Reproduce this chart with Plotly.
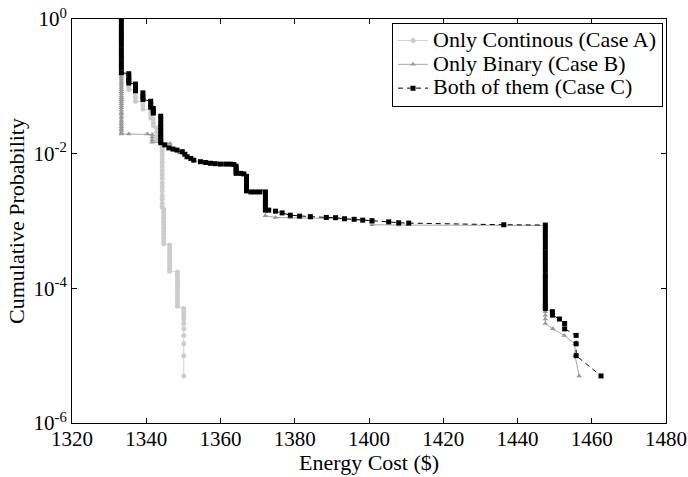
import plotly.graph_objects as go

# ---------------- data ----------------
case_a_cost = (
    [1333.3] * 4 + [1335.3] * 5 + [1337.1] * 4 + [1339.1] * 3 + [1341.2] * 3 +
    [1341.9] * 3 + [1342.8] * 4 + [1344.3] * 17 + [1344.7] * 12 + [1346.3] * 11 +
    [1348.4] * 13 + [1350.1] * 10
)
case_a_prob = [
    1.0, 0.5, 0.25, 0.15,
    0.15, 0.13, 0.115, 0.10, 0.09,
    0.088, 0.078, 0.069, 0.060,
    0.058, 0.052, 0.046,
    0.044, 0.039, 0.034,
    0.033, 0.029, 0.026,
    0.024, 0.021, 0.018, 0.0155,
    0.0142, 0.0125, 0.011, 0.0096, 0.0084, 0.0073, 0.0064, 0.0056, 0.0049,
    0.0043, 0.0037, 0.0032, 0.0028, 0.0024, 0.0021, 0.0018, 0.0016,
    0.0015, 0.00135, 0.0012, 0.0011, 0.00098, 0.00088, 0.00079, 0.00071,
    0.00064, 0.00057, 0.00051, 0.00046,
    0.00044, 0.0004, 0.00036, 0.00033, 0.0003, 0.00027, 0.00025, 0.00023,
    0.00021, 0.00019, 0.00018,
    0.000175, 0.00016, 0.000145, 0.00013, 0.00012, 0.00011, 0.0001, 9e-5,
    8.2e-5, 7.4e-5, 6.6e-5, 6e-5, 5.4e-5,
    5e-5, 4.5e-5, 4e-5, 3.5e-5, 3e-5, 2.5e-5, 2e-5, 1.5e-5, 1e-5, 5e-6,
]

case_b_cost = (
    [1333.3] * 35 + [1335.3, 1340.3] + [1341.6] * 4 + [1346.4, 1347.8, 1349.0,
    1351.0, 1352.8, 1355.0, 1360.0, 1363.6] + [1364.2] * 2 + [1366.3] +
    [1367.0] * 3 + [1371.2] + [1372.1] * 4 + [1374.8, 1378.8, 1384.2, 1391.0,
    1396.0] + [1400.8] * 3 + [1408.0, 1436.3] + [1447.5] * 12 +
    [1449.5, 1452.6, 1455.5, 1455.5, 1456.6]
)
case_b_prob = [
    1.0, 0.6, 0.35, 0.2,
    0.156, 0.146, 0.136, 0.127, 0.118, 0.110, 0.103, 0.096, 0.089, 0.083,
    0.078, 0.072, 0.067, 0.063, 0.059, 0.055, 0.051, 0.048, 0.044, 0.041,
    0.039, 0.036, 0.034, 0.031, 0.029, 0.027, 0.025, 0.0235, 0.022, 0.0205,
    0.0196,
    0.0196, 0.0196,
    0.0192, 0.0175, 0.016, 0.0148,
    0.0142, 0.0112, 0.0102, 0.0088, 0.0079, 0.0075, 0.0069, 0.0068,
    0.0060, 0.0052,
    0.0049,
    0.0040, 0.0032, 0.0028,
    0.0028,
    0.0024, 0.0019, 0.0015, 0.0012,
    0.00113, 0.00112, 0.00111, 0.00109, 0.00105,
    0.00101, 0.00094, 0.00088,
    0.00087, 0.00086,
    0.00086, 0.0006, 0.0004, 0.00025, 0.00015, 0.0001, 7e-5, 5e-5, 4.5e-5,
    4e-5, 3.5e-5, 3e-5,
    2.5e-5, 2e-5, 1.5e-5, 1e-5, 5e-6,
]

case_c_cost = (
    [1333.3] * 13 + [1335.3] * 4 + [1337.1] * 3 + [1339.1] * 3 + [1341.2] * 3 +
    [1341.9] * 3 + [1343.9] * 9 +
    [1345.0, 1346.1, 1347.2, 1348.3, 1349.7, 1350.4, 1351.0, 1352.0, 1352.8,
     1354.6, 1356.0, 1357.3, 1358.6, 1360.0, 1361.4, 1362.7, 1363.6] +
    [1364.2] * 4 + [1365.4, 1366.3] + [1367.0] * 6 + [1368.2, 1369.4, 1370.6] +
    [1372.1] * 7 +
    [1373.0, 1374.8, 1376.6, 1378.8, 1381.3, 1384.2, 1388.5, 1391.0, 1393.4,
     1396.0, 1398.3, 1400.8, 1405.3, 1408.0, 1410.7, 1436.3] +
    [1447.5] * 21 + [1449.4] * 2 + [1451.3] + [1452.7] * 2 + [1455.8] * 3 +
    [1462.5]
)
case_c_prob = [
    1.0, 0.87, 0.75, 0.65, 0.56, 0.48, 0.41, 0.35, 0.30, 0.26, 0.22, 0.19, 0.16,
    0.154, 0.136, 0.122, 0.112,
    0.108, 0.096, 0.086,
    0.080, 0.071, 0.064,
    0.060, 0.054, 0.049,
    0.047, 0.043, 0.040,
    0.036, 0.032, 0.028, 0.025, 0.022, 0.0195, 0.0175, 0.0158, 0.0145,
    0.0135, 0.0122, 0.0117, 0.0113, 0.0107, 0.0098, 0.0090, 0.0085, 0.0080,
    0.0076, 0.0074, 0.0072, 0.0071, 0.0070, 0.0070, 0.0070, 0.0069,
    0.0065, 0.0060, 0.0055, 0.0051,
    0.0051, 0.0050,
    0.0046, 0.0041, 0.0037, 0.0033, 0.0030, 0.0028,
    0.0027, 0.0027, 0.0027,
    0.0027, 0.0024, 0.0021, 0.0019, 0.0017, 0.00155, 0.00145,
    0.00145, 0.00140, 0.00132, 0.00122, 0.00118, 0.00116, 0.00113, 0.00112,
    0.00108, 0.00106, 0.00103, 0.00101, 0.00097, 0.00094, 0.00093, 0.00088,
    0.00087, 0.00075, 0.00065, 0.00056, 0.00048, 0.00041, 0.00035, 0.00030,
    0.00026, 0.00022, 0.00019, 0.00016, 0.00014, 0.00012, 0.000104, 9e-5,
    7.8e-5, 6.8e-5, 6e-5, 5.4e-5, 5e-5,
    4.5e-5, 4e-5,
    3.5e-5,
    3e-5, 2.5e-5,
    2e-5, 1.5e-5, 1e-5,
    5e-6,
]

series_names = ["Only Continous (Case A)", "Only Binary (Case B)", "Both of them (Case C)"]
y_tick_values = [1e-6, 1e-4, 1e-2, 1]
y_tick_labels = ["10<sup>-6</sup>", "10<sup>-4</sup>", "10<sup>-2</sup>", "10<sup>0</sup>"]
x_title = "Energy Cost ($)"
y_title = "Cumulative Probability"

FONT = "Liberation Serif, Times New Roman, serif"


def legend_label(text):
    return '<span style="font-size:22px">' + text + "</span>"


fig = go.Figure()
fig.add_trace(go.Scatter(
    x=case_a_cost, y=case_a_prob, name=legend_label(series_names[0]),
    mode="lines+markers",
    line=dict(color="#d0d0d0", width=1),
    marker=dict(symbol="circle", size=5, color="#cccccc"),
))
fig.add_trace(go.Scatter(
    x=case_b_cost, y=case_b_prob, name=legend_label(series_names[1]),
    mode="lines+markers",
    line=dict(color="#a8a8a8", width=1),
    marker=dict(symbol="triangle-up", size=5, color="#999999"),
))
fig.add_trace(go.Scatter(
    x=case_c_cost, y=case_c_prob, name=legend_label(series_names[2]),
    mode="lines+markers",
    line=dict(color="black", width=1, dash="5px,4px"),
    marker=dict(symbol="square", size=5, color="black"),
))

axis_common = dict(
    showline=True, linecolor="black", linewidth=1, mirror="ticks",
    ticks="inside", ticklen=5, tickcolor="black", tickwidth=1,
    showgrid=False, zeroline=False, automargin=False,
    tickfont=dict(family=FONT, size=21, color="black"),
)

fig.update_layout(
    width=688, height=477,
    margin=dict(l=72, r=22, t=19, b=54),
    paper_bgcolor="white", plot_bgcolor="white",
    font=dict(family=FONT, size=22, color="black"),
    showlegend=True,
    legend=dict(
        x=0.995, y=0.991, xanchor="right", yanchor="top",
        bgcolor="white", bordercolor="black", borderwidth=1,
        font=dict(family=FONT, size=16, color="black"),
        itemwidth=30, tracegroupgap=0,
    ),
    xaxis=dict(
        range=[1320, 1480], tick0=1320, dtick=20, ticklabelstandoff=-3,
        **axis_common,
    ),
    yaxis=dict(
        type="log", range=[-6, 0],
        tickmode="array", tickvals=y_tick_values, ticktext=y_tick_labels,
        title=dict(text=y_title, font=dict(family=FONT, size=22), standoff=2),
        **axis_common,
    ),
    annotations=[dict(
        text=x_title, xref="paper", yref="paper", x=0.5, y=-0.099,
        xanchor="center", yanchor="middle", showarrow=False,
        font=dict(family=FONT, size=22, color="black"),
    )],
)

fig.write_html("out.html")
